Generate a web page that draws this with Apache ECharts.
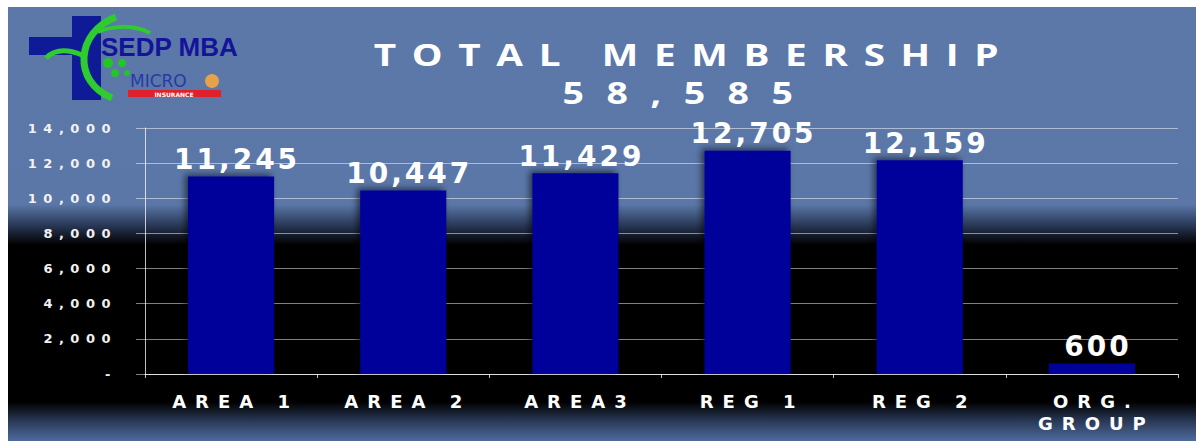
<!DOCTYPE html>
<html>
<head>
<meta charset="utf-8">
<script src="https://cdn.jsdelivr.net/npm/echarts@6/dist/echarts.min.js"></script>
<style>
  html, body { margin: 0; padding: 0; background: #fff; }
  #main { width: 1196px; height: 441px; }
  /* spaced-out lettering, picked by font size */
  #main text[style*="31px"] { letter-spacing: 12.5px; }
  #main text[style*="30px"] { letter-spacing: 18px; }
  #main text[style*="28px"] { letter-spacing: 3px; }
  #main text[style*="18px"] { letter-spacing: 9px; }
  #main text[style*="13px"] { letter-spacing: 6.5px; }
</style>
</head>
<body>
<div id="main"></div>
<script>
  // data
  var categories = ['AREA 1', 'AREA 2', 'AREA3', 'REG 1', 'REG 2', 'ORG.\nGROUP'];
  var members = [11245, 10447, 11429, 12705, 12159, 600];
  var totalMembers = '58,585';
  var titleText = 'TOTAL MEMBERSHIP';

  var myChart = echarts.init(document.getElementById('main'), null, { renderer: 'svg' });

  var option = {
    backgroundColor: '#ffffff',
    animation: false,
    graphic: [
      // backdrop: blue -> black -> blue
      {
        type: 'rect', z: -100, silent: true,
        shape: { x: 8, y: 7, width: 1188, height: 434 },
        style: {
          fill: {
            type: 'linear', x: 0, y: 0, x2: 0, y2: 1,
            colorStops: [
              { offset: 0, color: '#5b78a9' },
              { offset: 0.455, color: '#5a77a8' },
              { offset: 0.5, color: '#2c3c5c' },
              { offset: 0.548, color: '#000000' },
              { offset: 0.91, color: '#000000' },
              { offset: 0.955, color: '#2a3a58' },
              { offset: 1, color: '#4f6c9e' }
            ]
          }
        }
      },
      // logo
      { type: 'rect', silent: true, shape: { x: 72, y: 16, width: 29, height: 84 }, style: { fill: '#0f1a96' } },
      { type: 'rect', silent: true, shape: { x: 29, y: 37, width: 72, height: 18 }, style: { fill: '#0f1a96' } },
      {
        type: 'bezierCurve', silent: true,
        shape: { x1: 112, y1: 98, cpx1: 72, cpy1: 82, cpx2: 76, cpy2: 32, x2: 116, y2: 17 },
        style: { stroke: '#2ecc2e', lineWidth: 7, fill: null }
      },
      {
        type: 'bezierCurve', silent: true,
        shape: { x1: 46, y1: 58, cpx1: 56, cpy1: 48, cpx2: 70, cpy2: 50, x2: 82, y2: 55 },
        style: { stroke: '#2ecc2e', lineWidth: 5, fill: null }
      },
      {
        type: 'bezierCurve', silent: true,
        shape: { x1: 98, y1: 32, cpx1: 112, cpy1: 26, cpx2: 132, cpy2: 24, x2: 150, y2: 33 },
        style: { stroke: '#2ecc2e', lineWidth: 4, fill: null }
      },
      { type: 'circle', silent: true, shape: { cx: 108, cy: 63, r: 5 }, style: { fill: '#22c822' } },
      { type: 'circle', silent: true, shape: { cx: 122, cy: 63, r: 4 }, style: { fill: '#22c822' } },
      { type: 'circle', silent: true, shape: { cx: 115, cy: 73, r: 4 }, style: { fill: '#22c822' } },
      { type: 'circle', silent: true, shape: { cx: 127, cy: 73, r: 3 }, style: { fill: '#22c822' } },
      {
        type: 'text', silent: true, x: 101, y: 47,
        style: { text: 'SEDP MBA', fontSize: 26, fontWeight: 'bold', fontFamily: 'Liberation Sans', fill: '#14149a', textAlign: 'left', textVerticalAlign: 'middle' }
      },
      {
        type: 'text', silent: true, x: 130, y: 81,
        style: { text: 'MICRO', fontSize: 17, fontFamily: 'DejaVu Sans', fill: '#2a3aa5', textAlign: 'left', textVerticalAlign: 'middle' }
      },
      { type: 'circle', silent: true, shape: { cx: 212, cy: 81, r: 7 }, style: { fill: '#e6a24a' } },
      { type: 'rect', silent: true, shape: { x: 128, y: 90, width: 93, height: 7 }, style: { fill: '#e0202a' } },
      {
        type: 'text', silent: true, x: 174, y: 94,
        style: { text: 'INSURANCE', fontSize: 6, fontWeight: 'bold', fontFamily: 'DejaVu Sans', fill: '#ffffff', textAlign: 'center', textVerticalAlign: 'middle' }
      },
      // title
      {
        type: 'text', silent: true, x: 694, y: 54, scaleX: 1.25,
        style: { text: titleText, fontSize: 31, fontWeight: 'bold', fontFamily: 'Open Sans', fill: '#ffffff', textAlign: 'center', textVerticalAlign: 'middle' }
      },
      {
        type: 'text', silent: true, x: 689, y: 93, scaleX: 1.25,
        style: { text: totalMembers, fontSize: 30, fontWeight: 'bold', fontFamily: 'Open Sans', fill: '#ffffff', textAlign: 'center', textVerticalAlign: 'middle' }
      }
    ],
    grid: { left: 145, right: 18, top: 128, bottom: 67, containLabel: false },
    xAxis: {
      type: 'category',
      data: categories,
      axisLine: { lineStyle: { color: 'rgba(255,255,255,0.75)', width: 1 } },
      axisTick: { show: true, length: 4, lineStyle: { color: 'rgba(255,255,255,0.75)' } },
      axisLabel: {
        color: '#ffffff', fontFamily: 'DejaVu Sans', fontWeight: 'bold', fontSize: 18,
        margin: 16, lineHeight: 22, padding: [0, 0, 0, 9], interval: 0
      }
    },
    yAxis: {
      type: 'value',
      min: 0, max: 14000, interval: 2000,
      axisLine: { show: true, lineStyle: { color: 'rgba(255,255,255,0.75)', width: 1 } },
      axisTick: { show: true, length: 9, lineStyle: { color: 'rgba(255,255,255,0.5)' } },
      splitLine: { lineStyle: { color: 'rgba(255,255,255,0.5)', width: 1 } },
      axisLabel: {
        color: '#f2f2f2', fontFamily: 'DejaVu Sans', fontWeight: 'bold', fontSize: 13, margin: 28,
        formatter: function (v) { return v === 0 ? '-' : v.toLocaleString('en-US'); }
      }
    },
    series: [{
      type: 'bar',
      data: members,
      barWidth: '50%',
      itemStyle: {
        color: '#00009a',
        shadowColor: 'rgba(0,0,0,0.55)', shadowBlur: 6, shadowOffsetX: -3, shadowOffsetY: -2
      },
      label: {
        show: true, position: 'top', distance: 3, offset: [6, 0],
        color: '#ffffff', fontFamily: 'DejaVu Sans', fontWeight: 'bold', fontSize: 28,
        formatter: function (p) { return p.value.toLocaleString('en-US'); }
      }
    }]
  };

  myChart.setOption(option);
</script>
</body>
</html>
